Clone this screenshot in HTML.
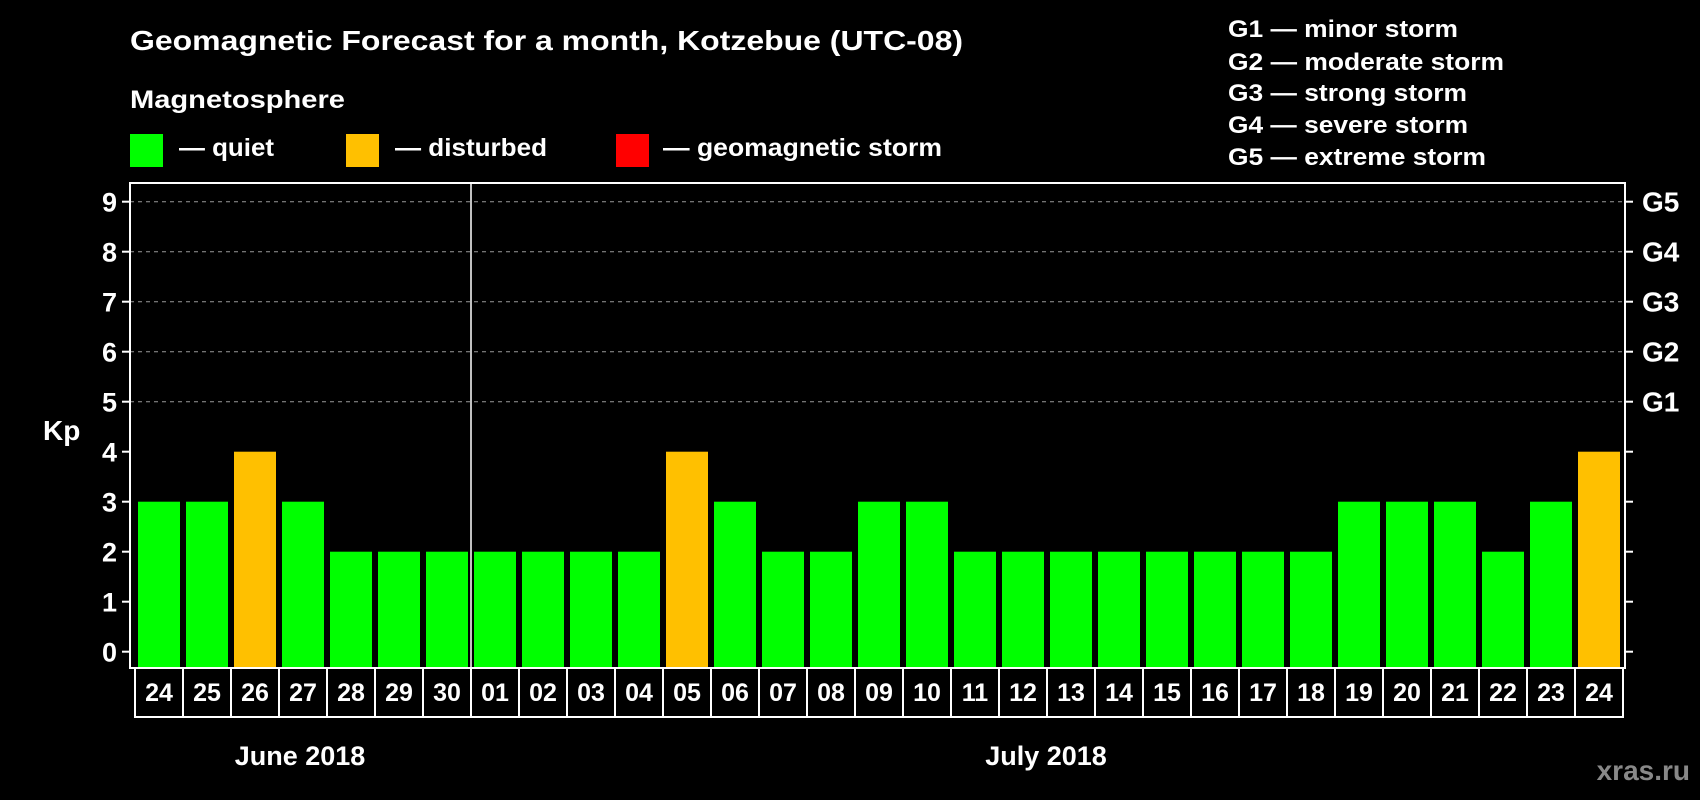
<!DOCTYPE html>
<html><head><meta charset="utf-8"><style>
html,body{margin:0;padding:0;background:#000;}
svg{display:block;font-family:"Liberation Sans",Arial,sans-serif;font-weight:bold;}
</style></head><body>
<svg id="chart" width="1700" height="800" viewBox="0 0 1700 800" xmlns="http://www.w3.org/2000/svg">
<rect x="0" y="0" width="1700" height="800" fill="#000"/>
<text x="130" y="50" font-size="28" fill="#fff" textLength="833" lengthAdjust="spacingAndGlyphs">Geomagnetic Forecast for a month, Kotzebue (UTC-08)</text>
<text x="130" y="108" font-size="25" fill="#fff" textLength="215" lengthAdjust="spacingAndGlyphs">Magnetosphere</text>
<rect x="130" y="134" width="33" height="33" fill="#00ff00"/>
<text x="179" y="156" font-size="25" fill="#fff" textLength="95" lengthAdjust="spacingAndGlyphs">— quiet</text>
<rect x="346" y="134" width="33" height="33" fill="#ffc000"/>
<text x="395" y="156" font-size="25" fill="#fff" textLength="152" lengthAdjust="spacingAndGlyphs">— disturbed</text>
<rect x="616" y="134" width="33" height="33" fill="#ff0000"/>
<text x="663" y="156" font-size="25" fill="#fff" textLength="279" lengthAdjust="spacingAndGlyphs">— geomagnetic storm</text>
<g font-size="24" fill="#fff">
<text x="1228" y="37" textLength="230" lengthAdjust="spacingAndGlyphs">G1 — minor storm</text>
<text x="1228" y="70" textLength="276" lengthAdjust="spacingAndGlyphs">G2 — moderate storm</text>
<text x="1228" y="101" textLength="239" lengthAdjust="spacingAndGlyphs">G3 — strong storm</text>
<text x="1228" y="133" textLength="240" lengthAdjust="spacingAndGlyphs">G4 — severe storm</text>
<text x="1228" y="165" textLength="258" lengthAdjust="spacingAndGlyphs">G5 — extreme storm</text>
</g>
<g id="grid"></g>
<g id="bars"></g>
<g id="axes"></g>
<text x="43" y="440" font-size="28" fill="#fff">Kp</text>
<text x="300" y="765" font-size="27" fill="#fff" text-anchor="middle">June 2018</text>
<text x="1046" y="765" font-size="27" fill="#fff" text-anchor="middle">July 2018</text>
<text x="1690" y="780" font-size="28" fill="#888" text-anchor="end">xras.ru</text>
</svg>
<script>
const days = ["24","25","26","27","28","29","30","01","02","03","04","05","06","07","08","09","10","11","12","13","14","15","16","17","18","19","20","21","22","23","24"];
const kpValues = [3,3,4,3,2,2,2,2,2,2,2,4,3,2,2,3,3,2,2,2,2,2,2,2,2,3,3,3,2,3,4];
const yTicks = [0,1,2,3,4,5,6,7,8,9];
const gLabels = ["G1","G2","G3","G4","G5"];
const gLevels = [5,6,7,8,9];

const NS="http://www.w3.org/2000/svg";
const plotLeft=130, plotRight=1625, plotTop=183, plotBottom=668;
function yScale(v){return 651.7-50*v;}
function xBar(i){return 138+48*i;}
const barW=42;
function colorFor(v){return v>=5?"#ff0000":(v>=4?"#ffc000":"#00ff00");}
function mk(tag,attrs,parent){const e=document.createElementNS(NS,tag);for(const k in attrs)e.setAttribute(k,attrs[k]);parent.appendChild(e);return e;}

const grid=document.getElementById('grid');
gLevels.forEach(v=>{
  const l=mk('line',{x1:plotLeft,x2:plotRight,y1:yScale(v),y2:yScale(v),stroke:'#999','stroke-width':1,'stroke-dasharray':'4 4'},grid);
  
  
});

const bars=document.getElementById('bars');
kpValues.forEach((v,i)=>{
  const r=mk('rect',{x:xBar(i),y:yScale(v),width:barW,height:plotBottom-yScale(v),fill:colorFor(v)},bars);
  
  
});

const axes=document.getElementById('axes');
const frame=mk('rect',{x:plotLeft,y:plotTop,width:plotRight-plotLeft,height:plotBottom-plotTop,fill:'none',stroke:'#fff','stroke-width':2},axes);


const sep=mk('line',{x1:471,x2:471,y1:plotTop,y2:plotBottom,stroke:'#fff','stroke-width':1.5},axes);


yTicks.forEach(v=>{
  const y=yScale(v);
  mk('line',{x1:plotLeft-8,x2:plotLeft,y1:y,y2:y,stroke:'#fff','stroke-width':2},axes);
  mk('line',{x1:plotRight,x2:plotRight+8,y1:y,y2:y,stroke:'#fff','stroke-width':2},axes);
  const t=mk('text',{x:117,y:y+10,'font-size':27,fill:'#fff','text-anchor':'end'},axes);
  t.textContent=v;
  
  
});
gLabels.forEach((g,i)=>{
  const t=mk('text',{x:1642,y:yScale(gLevels[i])+10,'font-size':28,fill:'#fff'},axes);
  t.textContent=g;
  
  
});
days.forEach((d,i)=>{
  const bx=135+48*i;
  const r=mk('rect',{x:bx,y:plotBottom,width:48,height:49,fill:'none',stroke:'#fff','stroke-width':2},axes);
  
  
  const t=mk('text',{x:bx+24,y:701,'font-size':25,fill:'#fff','text-anchor':'middle'},axes);
  t.textContent=d;
  
  
});
</script>
</body></html>
